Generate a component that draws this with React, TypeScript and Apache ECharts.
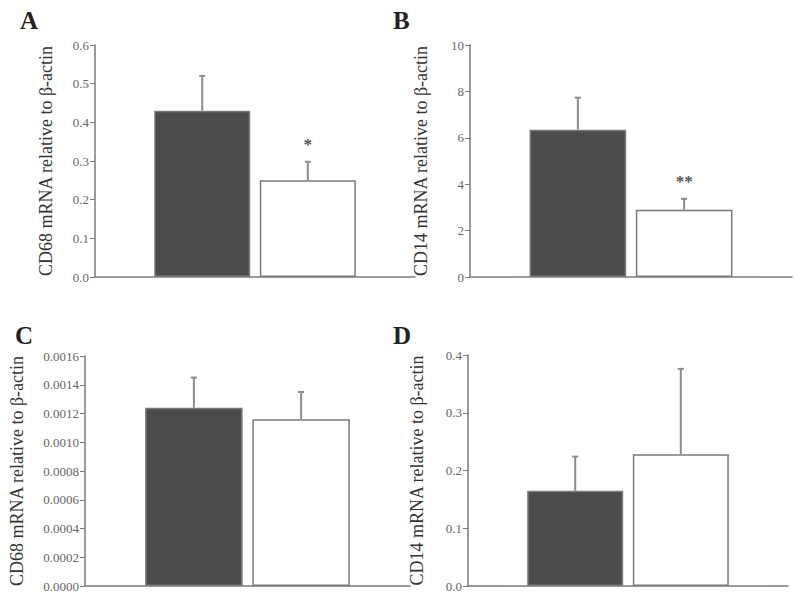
import React, { useEffect, useRef } from "react";
import * as echarts from "echarts";

const panelLetters = ["A", "B", "C", "D"];
const yNames = [
  "CD68 mRNA relative to β-actin",
  "CD14 mRNA relative to β-actin",
  "CD68 mRNA relative to β-actin",
  "CD14 mRNA relative to β-actin",
];
const darkMeans = [0.43, 6.35, 0.00124, 0.165];
const darkErrors = [0.09, 1.38, 0.00021, 0.059];
const whiteMeans = [0.25, 2.9, 0.00116, 0.228];
const whiteErrors = [0.048, 0.47, 0.00019, 0.148];
const significance = ["*", "**", "", ""];
const yMax = [0.6, 10, 0.0016, 0.4];
const yInterval = [0.1, 2, 0.0002, 0.1];
const yDecimals = [1, 0, 4, 1];
const category = [""];

const grids = [
  { left: 95, right: 385, top: 45, bottom: 325 },
  { left: 470, right: 8, top: 45, bottom: 325 },
  { left: 85, right: 390, top: 356, bottom: 16 },
  { left: 468, right: 12, top: 355, bottom: 16 },
];
const nameGaps = [40, 40, 59, 42];
const letterPos = [
  { x: 20, y: 8 },
  { x: 393, y: 8 },
  { x: 15, y: 323 },
  { x: 393, y: 323 },
];

const AXIS = "#7a7a7a";
const FONT = "Liberation Serif";

function errorRender(side: number, stars: string) {
  return (params: any, api: any) => {
    const mean = api.value(1);
    const err = api.value(2);
    const base = api.coord([0, mean]);
    const top = api.coord([0, mean + err]);
    const band = api.size([1, 0])[0];
    const barW = band * 0.3;
    const gap = barW * 0.1;
    const x = base[0] + side * (barW + gap) / 2;
    const children: any[] = [
      {
        type: "line",
        shape: { x1: x, y1: base[1], x2: x, y2: top[1] },
        style: { stroke: "#8c8c8c", lineWidth: 2 },
      },
      {
        type: "line",
        shape: { x1: x - 3, y1: top[1], x2: x + 3, y2: top[1] },
        style: { stroke: "#8c8c8c", lineWidth: 2 },
      },
    ];
    if (stars) {
      children.push({
        type: "text",
        x: x,
        y: top[1] - 9,
        style: {
          text: stars,
          fill: "#555",
          font: `bold 17px "${FONT}"`,
          align: "center",
          verticalAlign: "bottom",
        },
      });
    }
    return { type: "group", children };
  };
}

export default function App() {
  const ref = useRef<HTMLDivElement>(null);
  useEffect(() => {
    const chart = echarts.init(ref.current!, null, { renderer: "svg" });
    const xAxis: any[] = [];
    const yAxis: any[] = [];
    const series: any[] = [];
    grids.forEach((g, i) => {
      xAxis.push({
        type: "category",
        gridIndex: i,
        data: category,
        axisLine: { lineStyle: { color: AXIS, width: 1.5 } },
        axisTick: { show: false },
        axisLabel: { show: false },
      });
      yAxis.push({
        type: "value",
        gridIndex: i,
        min: 0,
        max: yMax[i],
        interval: yInterval[i],
        name: yNames[i],
        nameLocation: "middle",
        nameGap: nameGaps[i],
        nameTextStyle: { fontFamily: FONT, fontSize: 18, color: "#333333" },
        axisLine: { show: true, lineStyle: { color: AXIS, width: 1.5 } },
        axisTick: { show: true, inside: false, length: 5, lineStyle: { color: AXIS } },
        axisLabel: {
          fontFamily: FONT,
          fontSize: 13,
          color: "#666666",
          margin: 6,
          formatter: (v: number) => v.toFixed(yDecimals[i]),
        },
        splitLine: { show: false },
      });
      series.push({
        type: "bar",
        xAxisIndex: i,
        yAxisIndex: i,
        data: [darkMeans[i]],
        barWidth: "30%",
        barGap: "10%",
        itemStyle: { color: "#4b4b4e", borderColor: "#7a7a7a", borderWidth: 1.5 },
      });
      series.push({
        type: "bar",
        xAxisIndex: i,
        yAxisIndex: i,
        data: [whiteMeans[i]],
        barWidth: "30%",
        barGap: "10%",
        itemStyle: { color: "#ffffff", borderColor: "#7a7a7a", borderWidth: 1.5 },
      });
      series.push({
        type: "custom",
        xAxisIndex: i,
        yAxisIndex: i,
        clip: false,
        z: 3,
        data: [[0, darkMeans[i], darkErrors[i]]],
        encode: { x: 0, y: 1 },
        renderItem: errorRender(-1, ""),
      });
      series.push({
        type: "custom",
        xAxisIndex: i,
        yAxisIndex: i,
        clip: false,
        z: 3,
        data: [[0, whiteMeans[i], whiteErrors[i]]],
        encode: { x: 0, y: 1 },
        renderItem: errorRender(1, significance[i]),
      });
    });
    chart.setOption({
      animation: false,
      backgroundColor: "#ffffff",
      grid: grids.map((g) => ({ ...g, containLabel: false })),
      xAxis,
      yAxis,
      series,
      graphic: panelLetters.map((l, i) => ({
        type: "text",
        left: letterPos[i].x,
        top: letterPos[i].y,
        style: { text: l, font: `bold 25px "${FONT}"`, fill: "#222" },
      })),
    });
    return () => chart.dispose();
  }, []);
  return <div ref={ref} style={{ width: 800, height: 602, position: "absolute", left: 0, top: 0 }} />;
}
